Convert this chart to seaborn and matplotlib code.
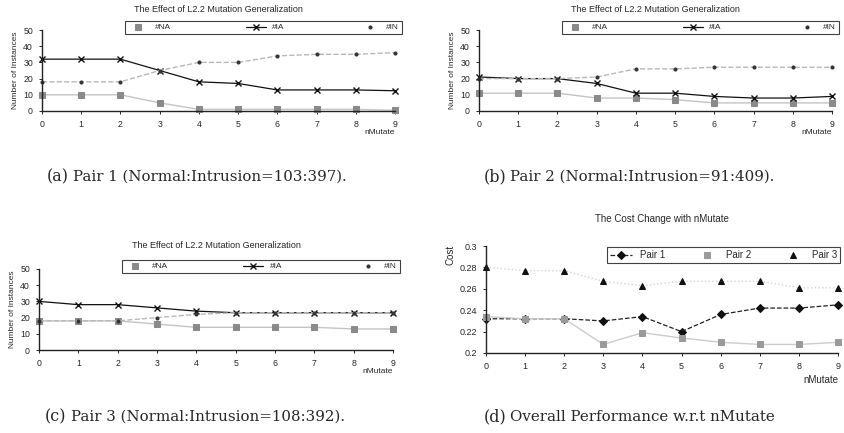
import numpy as np
import pandas as pd
import matplotlib
matplotlib.use('Agg')
import matplotlib.pyplot as plt
import seaborn as sns

sns.set_style('ticks')
plt.rcParams['font.family'] = ['Liberation Sans', 'DejaVu Sans']

# data
n_mutate = [0, 1, 2, 3, 4, 5, 6, 7, 8, 9]

p1_na = [10, 10, 10, 5, 1, 1, 1, 1, 1, 0.5]
p1_ia = [32, 32, 32, 25, 18, 17, 13, 13, 13, 12.5]
p1_in = [18, 18, 18, 25, 30, 30, 34, 35, 35, 36]

p2_na = [11, 11, 11, 8, 8, 7, 5, 5, 5, 5]
p2_ia = [21, 20, 20, 17, 11, 11, 9, 8, 8, 9]
p2_in = [20, 20, 20, 21, 26, 26, 27, 27, 27, 27]

p3_na = [18, 18, 18, 16, 14, 14, 14, 14, 13, 13]
p3_ia = [30, 28, 28, 26, 24, 23, 23, 23, 23, 23]
p3_in = [18, 18, 18, 20, 22, 23, 23, 23, 23, 23]

cost_pair1 = [0.232, 0.232, 0.232, 0.230, 0.234, 0.220, 0.236, 0.242, 0.242, 0.245]
cost_pair2 = [0.234, 0.232, 0.232, 0.208, 0.219, 0.214, 0.210, 0.208, 0.208, 0.210]
cost_pair3 = [0.280, 0.277, 0.277, 0.267, 0.263, 0.267, 0.267, 0.267, 0.261, 0.261]

title_effect = 'The Effect of L2.2 Mutation Generalization'
cap_tags = ['(a)', '(b)', '(c)', '(d)']
cap_texts = ['Pair 1 (Normal:Intrusion=103:397).',
             'Pair 2 (Normal:Intrusion=91:409).',
             'Pair 3 (Normal:Intrusion=108:392).',
             'Overall Performance w.r.t nMutate']

W, H = 844, 433
fig = plt.figure(figsize=(W / 100, H / 100), dpi=100)


def px_axes(left, right, top, bottom):
    return fig.add_axes([left / W, 1 - bottom / H, (right - left) / W, (bottom - top) / H])


def style_axes(ax, ylim, yticks, labels=None):
    ax.set_xlim(0, 9)
    ax.set_ylim(*ylim)
    ax.set_xticks(n_mutate)
    ax.set_yticks(yticks)
    if labels:
        ax.set_yticklabels(labels)
    ax.tick_params(labelsize=6.3, length=2.5, width=0.7, pad=4)
    for s in ['top', 'right']:
        ax.spines[s].set_visible(False)
    for s in ['left', 'bottom']:
        ax.spines[s].set_linewidth(1.0)
        ax.spines[s].set_color('#222222')
    ax.set_xlabel('')
    ax.set_ylabel('')


def count_panel(ax, na, ia, inn, title, title_y):
    df = pd.DataFrame({'nMutate': n_mutate, 'NA': na, 'IA': ia, 'IN': inn})
    sns.lineplot(data=df, x='nMutate', y='NA', ax=ax, color='#c4c4c4', lw=1.0,
                 marker='s', markersize=4.5, markerfacecolor='#8a8a8a',
                 markeredgecolor='#8a8a8a', label='#NA', clip_on=False)
    sns.lineplot(data=df, x='nMutate', y='IA', ax=ax, color='#111111', lw=0.9,
                 marker='x', markersize=5, markeredgewidth=1.0,
                 markeredgecolor='#111111', label='#IA', clip_on=False)
    sns.lineplot(data=df, x='nMutate', y='IN', ax=ax, color='#b8b8b8', lw=1.0,
                 ls='--', marker='o', markersize=2.2, markerfacecolor='#333333',
                 markeredgecolor='#333333', label='#IN', clip_on=False)
    style_axes(ax, (0, 50), [0, 10, 20, 30, 40, 50])
    ax.set_ylabel('Number of Instances', fontsize=6, labelpad=3)
    ax.set_title(title, fontsize=6.5, y=title_y, pad=0)
    ax.text(1.0, -0.27, 'nMutate', transform=ax.transAxes, fontsize=6,
            ha='right', va='center')
    handles, labels = ax.get_legend_handles_labels()
    handles[0].set_linestyle('none')
    handles[2].set_linestyle('none')
    leg = ax.legend(handles, labels, loc='center', ncol=3,
                    bbox_to_anchor=(0.235, 0.94, 0.785, 0.18),
                    mode='expand', fontsize=6, frameon=True, fancybox=False,
                    edgecolor='#111111', borderpad=0.35, handlelength=2.4,
                    handletextpad=0.8, borderaxespad=0.0)
    leg.get_frame().set_linewidth(0.8)
    # restore line styles on the plotted series
    handles[0].set_linestyle('-')
    handles[2].set_linestyle('--')


ax_a = px_axes(42, 395, 30, 111)
count_panel(ax_a, p1_na, p1_ia, p1_in, title_effect, 1.22)

ax_b = px_axes(479, 832, 30, 111)
count_panel(ax_b, p2_na, p2_ia, p2_in, title_effect, 1.22)

ax_c = px_axes(39, 393, 269, 350)
count_panel(ax_c, p3_na, p3_ia, p3_in, title_effect, 1.26)

# cost panel
ax_d = px_axes(486, 838, 246, 353)
cdf = pd.DataFrame({'nMutate': n_mutate, 'p1': cost_pair1, 'p2': cost_pair2, 'p3': cost_pair3})
sns.lineplot(data=cdf, x='nMutate', y='p1', ax=ax_d, color='#222222', lw=0.9, ls='--',
             marker='D', markersize=4, markerfacecolor='#111111',
             markeredgecolor='#111111', label='Pair 1', clip_on=False)
sns.lineplot(data=cdf, x='nMutate', y='p2', ax=ax_d, color='#cccccc', lw=1.0,
             marker='s', markersize=5, markerfacecolor='#9a9a9a',
             markeredgecolor='#9a9a9a', label='Pair 2', clip_on=False)
sns.lineplot(data=cdf, x='nMutate', y='p3', ax=ax_d, color='#d4d4d4', lw=1.0, ls=':',
             marker='^', markersize=5, markerfacecolor='#111111',
             markeredgecolor='#111111', label='Pair 3', clip_on=False)
style_axes(ax_d, (0.2, 0.3), [0.2, 0.22, 0.24, 0.26, 0.28, 0.3],
           labels=['0.2', '0.22', '0.24', '0.26', '0.28', '0.3'])
ax_d.tick_params(labelsize=6.5)
ax_d.text(-0.1, 0.92, 'Cost', transform=ax_d.transAxes, fontsize=7, rotation=90,
          ha='center', va='center')
ax_d.set_title('The Cost Change with nMutate', fontsize=7, y=1.22, pad=0)
ax_d.text(1.0, -0.25, 'nMutate', transform=ax_d.transAxes, fontsize=7,
          ha='right', va='center')
handles, labels = ax_d.get_legend_handles_labels()
handles[1].set_linestyle('none')
handles[2].set_linestyle('none')
leg = ax_d.legend(handles, labels, loc='center', ncol=3,
                  bbox_to_anchor=(0.345, 0.83, 0.66, 0.17),
                  mode='expand', fontsize=7, frameon=True, fancybox=False,
                  edgecolor='#111111', borderpad=0.3, handlelength=2.2,
                  handletextpad=0.8, borderaxespad=0.0)
leg.get_frame().set_linewidth(0.8)
handles[1].set_linestyle('-')
handles[2].set_linestyle(':')

# sub-figure captions
cap_pos = [(47, 177), (484, 177), (45, 417), (484, 417)]
for (cx, cy), tag, cap in zip(cap_pos, cap_tags, cap_texts):
    fig.text(cx / W, 1 - cy / H, tag, fontsize=11.5, family='DejaVu Serif',
             ha='left', va='center')
    fig.text((cx + 26) / W, 1 - cy / H, cap, fontsize=10.8, family='DejaVu Serif',
             ha='left', va='center')

fig.savefig('out.png', dpi=100)
